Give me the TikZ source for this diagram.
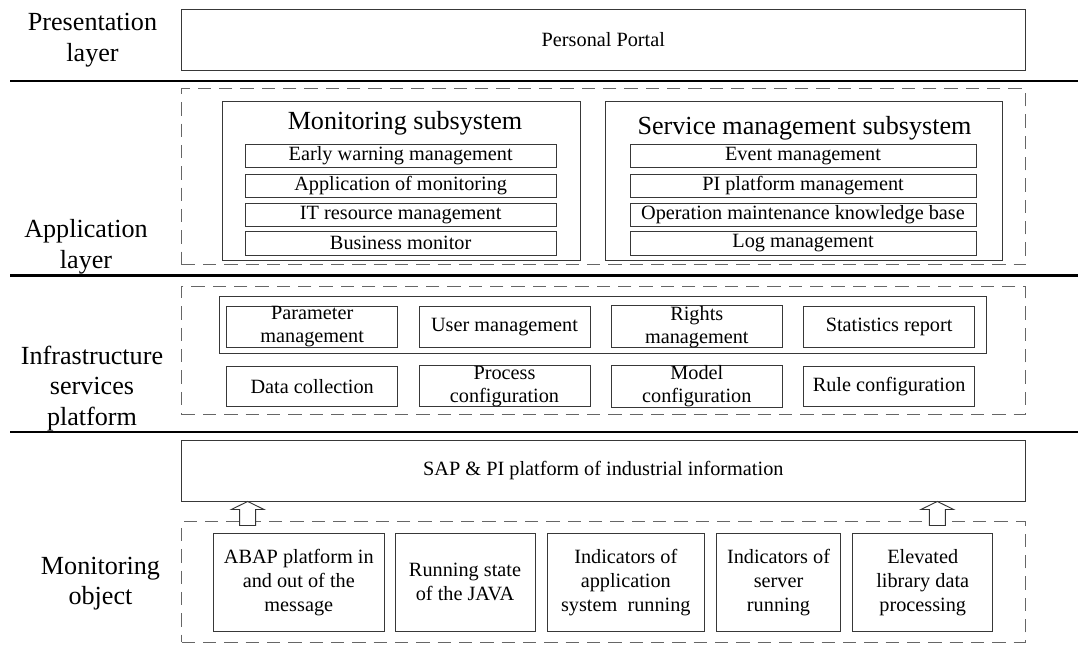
\documentclass[tikz,border=0pt]{standalone}
\usepackage{fontspec}
\setmainfont{Liberation Serif}
\usetikzlibrary{calc}
\begin{document}
\begin{tikzpicture}[x=0.75pt,y=-0.75pt,
  rect/.style n args={4}{at={({(#1+#3)/2},{(#2+#4)/2})}, minimum width={(#3-#1)*0.75pt}, minimum height={(#4-#2)*0.75pt}},
  box/.style={draw=black!78, line width=0.7pt, inner sep=0pt, align=center, font=\fontsize{15.2}{17.5}\selectfont},
  objbox/.style={box, font=\fontsize{15.2}{18}\selectfont},
  dbox/.style={draw=black!60, line width=0.75pt, dash pattern=on 10pt off 6pt, inner sep=0pt},
  lab/.style={align=center, font=\fontsize{19.6}{23}\selectfont},
  title/.style={inner sep=0pt, font=\fontsize{19.6}{23}\selectfont},
  sep/.style={line width=2pt, draw=black},
  hollow/.style={draw=black!80, line width=0.7pt, fill=white}]
\useasboundingbox (0,0) rectangle (1078,666);

% separators
\draw[sep] (10,81) -- (1078,81);
\draw[sep] (10,275.5) -- (1078,275.5);
\draw[sep] (10,432) -- (1078,432);

% layer labels
\node[lab] (lpres) at (92.5,40.5) {Presentation\\layer};
\node[lab] (lapp) at (86,247) {Application\\layer};
\node[lab] (linf) at (92,388.5) {Infrastructure\\services\\platform};
\node[lab] (lobj) at (100.5,583.5) {Monitoring\\object};

% presentation layer
\node[box, rect={181.7}{9.3}{1025}{70.3}] (portal) {Personal Portal};

% application layer
\node[dbox, rect={181.7}{89}{1025.7}{265}] (appl) {};
\node[box, rect={222}{101.7}{580.7}{260}] (mon) {};
\node[title, anchor=base] (montitle) at (405,130) {Monitoring subsystem};
\node[box, rect={245}{144.3}{556.3}{167.3}] (m1) {Early warning management};
\node[box, rect={245}{174}{556.3}{197.3}] (m2) {Application of monitoring};
\node[box, rect={245}{203.3}{556.3}{226.7}] (m3) {IT resource management};
\node[box, rect={245}{231.7}{556.3}{255}] (m4) {Business monitor};

\node[box, rect={605.3}{101.7}{1002.7}{260.3}] (svc) {};
\node[title, anchor=base] (svctitle) at (804.5,135) {Service management subsystem};
\node[box, rect={630}{144.3}{976}{167.3}] (s1) {Event management};
\node[box, rect={630}{174}{976}{197.3}] (s2) {PI platform management};
\node[box, rect={630}{203.3}{976}{226.7}] (s3) {Operation maintenance knowledge base};
\node[box, rect={630}{231.7}{976}{255}] (s4) {Log management};

% infrastructure services platform
\node[dbox, rect={181.7}{286.7}{1025}{415}] (infra) {};
\node[box, rect={219}{296}{986}{353.3}] (infratop) {};
\node[box, rect={226.7}{306}{397.7}{347.7}] (i1) {Parameter\\management};
\node[box, rect={419}{306}{590}{347.7}] (i2) {User management};
\node[box, rect={611.3}{306}{782.3}{347.7}] (i3) {Rights\\management};
\node[box, rect={803.6}{306}{974.6}{347.7}] (i4) {Statistics report};
\node[box, rect={226.7}{366}{397.7}{406.7}] (i5) {Data collection};
\node[box, rect={419}{366}{590}{406.7}] (i6) {Process\\configuration};
\node[box, rect={611.3}{366}{782.3}{406.7}] (i7) {Model\\configuration};
\node[box, rect={803.6}{366}{974.6}{406.7}] (i8) {Rule configuration};

% monitoring object
\node[box, rect={181.7}{440}{1025}{501}] (sap) {SAP \& PI platform of industrial information};
\node[dbox, rect={181.7}{521.7}{1025}{642.3}] (objs) {};
\node[objbox, rect={213.3}{533.3}{384.3}{631.3}] (o1) {ABAP platform in\\and out of the\\message};
\node[objbox, rect={395}{533.3}{535}{631.3}] (o2) {Running state\\of the JAVA};
\node[objbox, rect={547.3}{533.3}{704.3}{631.3}] (o3) {Indicators of\\application\\system\ \ running};
\node[objbox, rect={716.7}{533.3}{840.3}{631.3}] (o4) {Indicators of\\server\\running};
\node[objbox, rect={852.7}{533.3}{992.7}{631.3}] (o5) {Elevated\\library data\\processing};

% hollow up arrows from objects to SAP platform
\coordinate (a1) at (247.7,0 |- sap.south);
\coordinate (a2) at (937.3,0 |- sap.south);
\draw[hollow] (a1) -- ++(-16.3,8) -- ++(8.3,0) -- ++(0,16) -- ++(16,0) -- ++(0,-16) -- ++(8.3,0) -- cycle;
\draw[hollow] (a2) -- ++(-16.3,8) -- ++(8.3,0) -- ++(0,16) -- ++(16,0) -- ++(0,-16) -- ++(8.3,0) -- cycle;
\end{tikzpicture}
\end{document}
